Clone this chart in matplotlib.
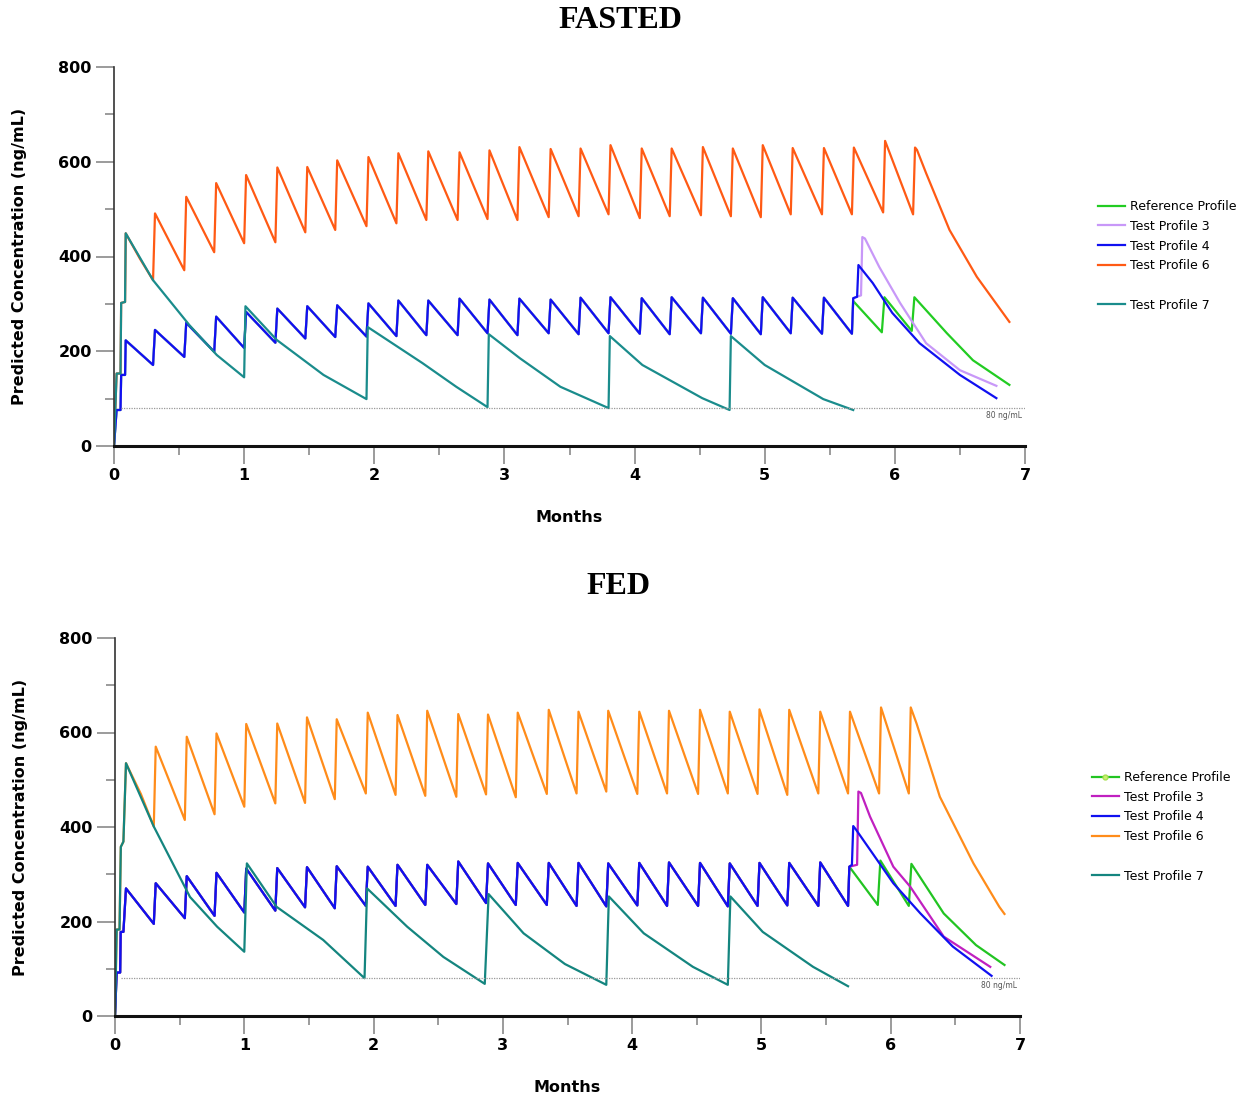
import matplotlib
matplotlib.use("Agg")
import matplotlib.pyplot as plt
from matplotlib.lines import Line2D
from matplotlib.ticker import MultipleLocator

# weekly dosing times (months), same in both panels
dose_months = [0.30, 0.54, 0.77, 1.00, 1.24, 1.47, 1.70, 1.94, 2.17, 2.40, 2.64, 2.87, 3.10,
               3.34, 3.57, 3.80, 4.04, 4.27, 4.51, 4.74, 4.97, 5.20, 5.44, 5.67, 5.91, 6.14]
threshold = 80  # ng/mL

# ---------------- FASTED ----------------
# Test Profile 6 (weekly, high dose)
fasted_tp6_start_t = [0.0, 0.02, 0.05, 0.055, 0.085, 0.09, 0.20]
fasted_tp6_start_v = [0, 153, 153, 302, 304, 449, 395]
fasted_tp6_trough = [350, 371, 409, 428, 430, 451, 456, 464, 470, 477, 477, 479, 477,
                     483, 485, 489, 481, 485, 487, 485, 483, 489, 489, 489, 493, 489]
fasted_tp6_peak = [491, 526, 555, 572, 588, 589, 603, 610, 618, 622, 620, 624, 631,
                   627, 628, 635, 628, 628, 631, 628, 635, 629, 629, 630, 644, 630]
fasted_tp6_tail_t = [6.17, 6.24, 6.42, 6.63, 6.88]
fasted_tp6_tail_v = [625, 576, 456, 357, 262]

# Reference / Test 3 / Test 4 share the weekly profile up to 5.67 months
fasted_low_start_t = [0.0, 0.02, 0.05, 0.055, 0.085, 0.09]
fasted_low_start_v = [0, 76, 76, 150, 150, 223]
fasted_low_trough = [171, 188, 199, 207, 218, 227, 230, 231, 232, 234, 234, 238,
                     234, 238, 236, 238, 237, 236, 238, 237, 236, 238, 237, 237]
fasted_low_peak = [245, 260, 273, 283, 290, 295, 297, 301, 307, 307, 311, 309,
                   311, 309, 313, 314, 312, 314, 313, 312, 314, 313, 313]
fasted_ref_tail_t = [5.68, 5.90, 5.92, 6.13, 6.15, 6.40, 6.60, 6.88]
fasted_ref_tail_v = [306, 240, 314, 243, 314, 238, 181, 129]
fasted_tp3_tail_t = [5.68, 5.74, 5.75, 5.77, 5.88, 6.04, 6.24, 6.50, 6.78]
fasted_tp3_tail_v = [312, 318, 441, 438, 378, 302, 217, 160, 127]
fasted_tp4_tail_t = [5.68, 5.71, 5.72, 5.74, 5.83, 5.98, 6.19, 6.50, 6.78]
fasted_tp4_tail_v = [312, 315, 382, 375, 344, 281, 217, 150, 101]

# Test Profile 7 (monthly)
fasted_tp7_t = [0.0, 0.02, 0.05, 0.055, 0.085, 0.09, 0.30, 0.58, 0.79, 1.00,
                1.01, 1.25, 1.61, 1.94, 1.95, 2.37, 2.63, 2.87,
                2.88, 3.12, 3.43, 3.80, 3.81, 4.06, 4.52, 4.73,
                4.74, 5.00, 5.45, 5.68]
fasted_tp7_v = [0, 153, 153, 302, 304, 449, 350, 255, 192, 145,
                295, 224, 150, 99, 251, 175, 125, 82,
                236, 185, 125, 80, 232, 171, 101, 76,
                232, 171, 99, 76]

# ---------------- FED ----------------
fed_tp6_start_t = [0.0, 0.013, 0.035, 0.045, 0.065, 0.085, 0.20]
fed_tp6_start_v = [0, 183, 183, 358, 369, 535, 470]
fed_tp6_trough = [401, 415, 427, 443, 450, 451, 459, 471, 468, 466, 464, 469, 463,
                  470, 471, 475, 470, 471, 470, 471, 470, 468, 471, 471, 471, 471]
fed_tp6_peak = [570, 591, 598, 618, 619, 632, 628, 642, 637, 646, 639, 638, 642,
                648, 644, 646, 644, 646, 648, 644, 649, 648, 644, 644, 653, 653]
fed_tp6_tail_t = [6.20, 6.38, 6.64, 6.84, 6.88]
fed_tp6_tail_v = [619, 464, 323, 231, 216]

fed_low_start_t = [0.0, 0.013, 0.04, 0.044, 0.065, 0.085]
fed_low_start_v = [0, 92, 92, 178, 178, 270]
fed_low_trough = [195, 207, 212, 219, 223, 230, 228, 233, 233, 235, 237, 239,
                  235, 235, 233, 232, 234, 233, 233, 232, 233, 234, 233, 233]
fed_low_peak = [281, 296, 303, 312, 313, 315, 317, 316, 320, 320, 327, 323,
                324, 324, 324, 323, 324, 325, 324, 323, 324, 324, 325]
fed_ref_tail_t = [5.68, 5.90, 5.92, 6.14, 6.16, 6.41, 6.66, 6.88]
fed_ref_tail_v = [316, 235, 329, 233, 322, 217, 150, 108]
fed_tp3_tail_t = [5.68, 5.74, 5.75, 5.77, 5.84, 6.02, 6.15, 6.41, 6.77]
fed_tp3_tail_v = [316, 320, 475, 472, 422, 316, 274, 168, 104]
fed_tp4_tail_t = [5.68, 5.70, 5.71, 5.73, 5.86, 6.02, 6.23, 6.48, 6.78]
fed_tp4_tail_v = [316, 320, 402, 395, 344, 281, 217, 147, 85]

fed_tp7_t = [0.0, 0.013, 0.035, 0.045, 0.065, 0.085, 0.30, 0.58, 0.79, 1.00,
             1.02, 1.25, 1.61, 1.93, 1.95, 2.26, 2.54, 2.86,
             2.89, 3.16, 3.48, 3.80, 3.82, 4.09, 4.47, 4.74,
             4.76, 5.01, 5.40, 5.67]
fed_tp7_v = [0, 183, 183, 358, 369, 535, 401, 252, 189, 136,
             323, 231, 161, 80, 270, 189, 125, 68,
             258, 175, 110, 66, 253, 175, 104, 66,
             253, 178, 104, 63]


def sawtooth(doses, troughs, peaks, rise=0.015):
    # trough just before each dose, peak shortly after it
    xs, ys = [], []
    for i, t in enumerate(doses):
        xs.append(t)
        ys.append(troughs[i])
        if i < len(peaks):
            xs.append(t + rise)
            ys.append(peaks[i])
    return xs, ys


def draw_panel(ax, d, colors, title, legend_xy):
    # orange weekly profile
    sx, sy = sawtooth(dose_months, d["tp6_trough"], d["tp6_peak"])
    ax.plot(d["tp6_start_t"] + sx + d["tp6_tail_t"],
            d["tp6_start_v"] + sy + d["tp6_tail_v"], color=colors["tp6"], lw=1.6)

    # shared low profile + individual tails
    n = len(d["low_trough"])
    lx, ly = sawtooth(dose_months[:n], d["low_trough"], d["low_peak"])
    base_t = d["low_start_t"] + lx
    base_v = d["low_start_v"] + ly
    for key in ["ref", "tp3", "tp4"]:
        ax.plot(base_t + d[key + "_tail_t"], base_v + d[key + "_tail_v"],
                color=colors[key], lw=1.6)

    ax.plot(d["tp7_t"], d["tp7_v"], color=colors["tp7"], lw=1.6)

    ax.hlines(threshold, 0.05, 7, colors="#999999", lw=0.9, linestyles=(0, (1, 1)))
    ax.text(6.98, threshold - 6, "80 ng/mL", ha="right", va="top", fontsize=5.5, color="#555555")

    ax.set_xlim(0, 7)
    ax.set_ylim(0, 800)
    ax.xaxis.set_major_locator(MultipleLocator(1))
    ax.xaxis.set_minor_locator(MultipleLocator(0.5))
    ax.yaxis.set_major_locator(MultipleLocator(200))
    ax.yaxis.set_minor_locator(MultipleLocator(100))
    ax.tick_params(which="major", length=13, width=1.2, color="#8a8a8a", pad=3)
    ax.tick_params(which="minor", length=6.5, width=1.2, color="#8a8a8a")
    for lab in ax.get_xticklabels() + ax.get_yticklabels():
        lab.set_fontweight("bold")
        lab.set_fontsize(11.5)
    ax.spines["top"].set_visible(False)
    ax.spines["right"].set_visible(False)
    ax.spines["left"].set_color("#333333")
    ax.spines["left"].set_linewidth(1.2)
    ax.spines["bottom"].set_color("#111111")
    ax.spines["bottom"].set_linewidth(2.2)

    ax.set_xlabel("Months", fontsize=11.5, fontweight="bold")
    ax.set_ylabel("Predicted Concentration (ng/mL)", fontsize=11.5, fontweight="bold")
    ax.xaxis.set_label_coords(0.50, -0.168)
    ax.yaxis.set_label_coords(-0.096, 0.5)

    ref_handle = Line2D([], [], color=colors["ref"], lw=1.6)
    if title == "FED":
        ref_handle = Line2D([], [], color=colors["ref"], lw=1.6, marker="o", markersize=3.5,
                            markerfacecolor="#c8f070", markeredgecolor="#a8e050")
    handles = [ref_handle,
               Line2D([], [], color=colors["tp3"], lw=1.6),
               Line2D([], [], color=colors["tp4"], lw=1.6),
               Line2D([], [], color=colors["tp6"], lw=1.6),
               Line2D([], [], color="none"),
               Line2D([], [], color=colors["tp7"], lw=1.6)]
    labels = ["Reference Profile", "Test Profile 3", "Test Profile 4", "Test Profile 6",
              " ", "Test Profile 7"]
    ax.legend(handles, labels, loc="upper left", bbox_to_anchor=legend_xy,
              bbox_transform=ax.figure.transFigure, frameon=False, fontsize=9,
              borderpad=0, borderaxespad=0, handlelength=2.15, handletextpad=0.45,
              labelspacing=0.54)


fasted = dict(tp6_start_t=fasted_tp6_start_t, tp6_start_v=fasted_tp6_start_v,
              tp6_trough=fasted_tp6_trough, tp6_peak=fasted_tp6_peak,
              tp6_tail_t=fasted_tp6_tail_t, tp6_tail_v=fasted_tp6_tail_v,
              low_start_t=fasted_low_start_t, low_start_v=fasted_low_start_v,
              low_trough=fasted_low_trough, low_peak=fasted_low_peak,
              ref_tail_t=fasted_ref_tail_t, ref_tail_v=fasted_ref_tail_v,
              tp3_tail_t=fasted_tp3_tail_t, tp3_tail_v=fasted_tp3_tail_v,
              tp4_tail_t=fasted_tp4_tail_t, tp4_tail_v=fasted_tp4_tail_v,
              tp7_t=fasted_tp7_t, tp7_v=fasted_tp7_v)
fed = dict(tp6_start_t=fed_tp6_start_t, tp6_start_v=fed_tp6_start_v,
           tp6_trough=fed_tp6_trough, tp6_peak=fed_tp6_peak,
           tp6_tail_t=fed_tp6_tail_t, tp6_tail_v=fed_tp6_tail_v,
           low_start_t=fed_low_start_t, low_start_v=fed_low_start_v,
           low_trough=fed_low_trough, low_peak=fed_low_peak,
           ref_tail_t=fed_ref_tail_t, ref_tail_v=fed_ref_tail_v,
           tp3_tail_t=fed_tp3_tail_t, tp3_tail_v=fed_tp3_tail_v,
           tp4_tail_t=fed_tp4_tail_t, tp4_tail_v=fed_tp4_tail_v,
           tp7_t=fed_tp7_t, tp7_v=fed_tp7_v)

fasted_colors = {"ref": "#22cc22", "tp3": "#c898f8", "tp4": "#1010f0",
                 "tp6": "#ff5a14", "tp7": "#1a8c8c"}
fed_colors = {"ref": "#22c422", "tp3": "#c020c0", "tp4": "#1010f0",
              "tp6": "#ff8c1a", "tp7": "#14857f"}

W, H = 1254, 1099
fig = plt.figure(figsize=(W / 100, H / 100), dpi=100)
ax1 = fig.add_axes([114 / W, 1 - 446 / H, (1025 - 114) / W, (446 - 67) / H])
ax2 = fig.add_axes([115 / W, 1 - 1016 / H, (1020 - 115) / W, (1016 - 638) / H])

draw_panel(ax1, fasted, fasted_colors, "FASTED", (1098 / W, 1 - 200 / H))
draw_panel(ax2, fed, fed_colors, "FED", (1092 / W, 1 - 771 / H))

fig.text(620 / W, 1 - 21 / H, "FASTED", ha="center", va="center",
         family="Liberation Serif", fontweight="bold", fontsize=23)
fig.text(619 / W, 1 - 586 / H, "FED", ha="center", va="center",
         family="Liberation Serif", fontweight="bold", fontsize=23)

fig.savefig("out.png", dpi=100)
